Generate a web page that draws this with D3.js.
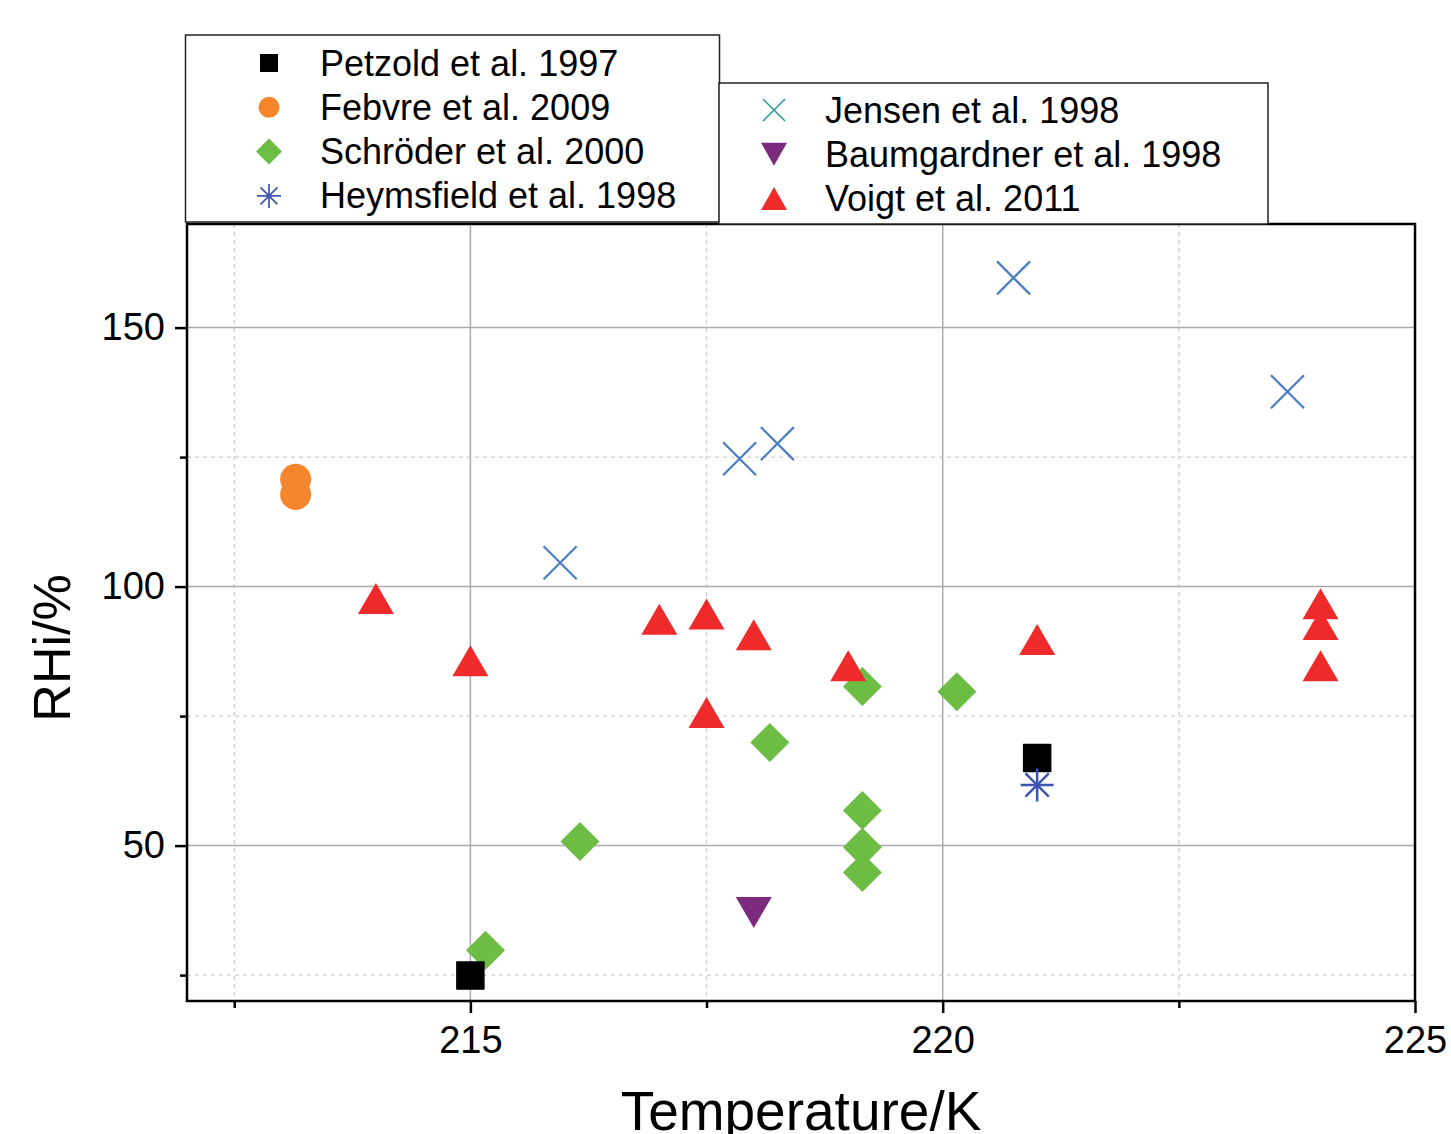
<!DOCTYPE html>
<html>
  <head>
    <meta charset="utf-8" />
    <title>RHi vs Temperature</title>
    <script src="https://d3js.org/d3.v7.min.js"></script>
    <style>
      body { margin: 0; background: #fff; }
      text { font-family: "Liberation Sans", Arial, sans-serif; fill: #000; }
    </style>
  </head>
  <body>
    <svg width="1451" height="1134" id="chart"></svg>
    <script>
      // data (temperature in K, RHi in %)
      var petzoldT = [215.0, 221.0];
      var petzoldRH = [24.9, 66.9];
      var febvreT = [213.15, 213.15];
      var febvreRH = [120.7, 117.8];
      var schroederT = [215.16, 216.16, 218.17, 219.15, 219.15, 219.15, 219.15, 220.15];
      var schroederRH = [29.8, 50.8, 69.9, 80.7, 56.8, 49.7, 44.8, 79.7];
      var heymsfieldT = [221.0];
      var heymsfieldRH = [61.7];
      var jensenT = [215.95, 217.85, 218.25, 220.75, 223.65];
      var jensenRH = [104.6, 124.7, 127.6, 159.6, 137.6];
      var baumgardnerT = [218.0];
      var baumgardnerRH = [37.1];
      var voigtT = [214.0, 215.0, 217.0, 217.5, 217.5, 218.0, 219.0, 221.0, 224.0, 224.0, 224.0];
      var voigtRH = [97.7, 85.7, 93.7, 94.7, 75.7, 90.7, 84.7, 89.8, 96.7, 92.7, 84.7];

      var xMajor = [215, 220, 225];
      var xMinor = [212.5, 217.5, 222.5];
      var yMajor = [50, 100, 150];
      var yMinor = [25, 75, 125];

      var legend1 = ["Petzold et al. 1997", "Febvre et al. 2009", "Schröder et al. 2000", "Heymsfield et al. 1998"];
      var legend2 = ["Jensen et al. 1998", "Baumgardner et al. 1998", "Voigt et al. 2011"];

      var svg = d3.select("#chart");
      var plotL = 187, plotR = 1415, plotT = 224, plotB = 1001;

      var x = d3.scaleLinear().domain([212, 225]).range([plotL, plotR]);
      var y = d3.scaleLinear().domain([20, 170]).range([plotB, plotT]);

      function zip(a, b) {
        return a.map(function(v, i) { return {t: v, rh: b[i]}; });
      }

      // grid lines
      var grid = svg.append("g");
      grid.selectAll(".gxm").data(xMinor).enter().append("line")
          .attr("x1", function(d){ return x(d); }).attr("x2", function(d){ return x(d); })
          .attr("y1", plotT).attr("y2", plotB)
          .attr("stroke", "#cfcfcf").attr("stroke-width", 1.3).attr("stroke-dasharray", "4,4");
      grid.selectAll(".gym").data(yMinor).enter().append("line")
          .attr("y1", function(d){ return y(d); }).attr("y2", function(d){ return y(d); })
          .attr("x1", plotL).attr("x2", plotR)
          .attr("stroke", "#cfcfcf").attr("stroke-width", 1.3).attr("stroke-dasharray", "4,4");
      grid.selectAll(".gx").data(xMajor.slice(0, 2)).enter().append("line")
          .attr("x1", function(d){ return x(d); }).attr("x2", function(d){ return x(d); })
          .attr("y1", plotT).attr("y2", plotB)
          .attr("stroke", "#aaaaaa").attr("stroke-width", 1.5);
      grid.selectAll(".gy").data(yMajor).enter().append("line")
          .attr("y1", function(d){ return y(d); }).attr("y2", function(d){ return y(d); })
          .attr("x1", plotL).attr("x2", plotR)
          .attr("stroke", "#aaaaaa").attr("stroke-width", 1.5);

      // axes
      var xAxis = svg.append("g").attr("transform", "translate(0," + plotB + ")")
          .call(d3.axisBottom(x).tickValues(xMajor).tickSize(12).tickPadding(13).tickFormat(d3.format("d")));
      var xAxisMinor = svg.append("g").attr("transform", "translate(0," + plotB + ")")
          .call(d3.axisBottom(x).tickValues(xMinor).tickSize(7).tickFormat(""));
      var yAxis = svg.append("g").attr("transform", "translate(" + plotL + ",0)")
          .call(d3.axisLeft(y).tickValues(yMajor).tickSize(12).tickPadding(10).tickFormat(d3.format("d")));
      var yAxisMinor = svg.append("g").attr("transform", "translate(" + plotL + ",0)")
          .call(d3.axisLeft(y).tickValues(yMinor).tickSize(7).tickFormat(""));

      [xAxis, xAxisMinor, yAxis, yAxisMinor].forEach(function(a) {
        a.select(".domain").remove();
        a.selectAll(".tick line").attr("stroke", "#000").attr("stroke-width", 2.5);
        a.selectAll(".tick text").style("font-size", "38px").attr("font-family", null);
      });

      // frame
      svg.append("rect").attr("x", plotL).attr("y", plotT)
          .attr("width", plotR - plotL).attr("height", plotB - plotT)
          .attr("fill", "none").attr("stroke", "#000").attr("stroke-width", 2.5);

      // axis titles
      svg.append("text").attr("x", 801).attr("y", 1130)
          .attr("text-anchor", "middle").style("font-size", "55px")
          .text("Temperature/K");
      svg.append("text")
          .attr("transform", "translate(70," + 648 + ") rotate(-90)")
          .attr("text-anchor", "middle").style("font-size", "52px")
          .text("RHi/%");

      // marker shapes
      var colors = {
        petzold: "#000000", febvre: "#f5862e", schroeder: "#6dbd45",
        heymsfield: "#3f55b3", jensen: "#4a7cc4", jensenLegend: "#2e9b9b",
        baumgardner: "#7b2a7e", voigt: "#ee2a2a"
      };

      function square(s) { return "M" + (-s) + "," + (-s) + "H" + s + "V" + s + "H" + (-s) + "Z"; }
      function diamond(s) { return "M0," + (-s) + "L" + s + ",0L0," + s + "L" + (-s) + ",0Z"; }
      function triUp(w, h) { return "M0," + (-h / 2) + "L" + (w / 2) + "," + (h / 2) + "L" + (-w / 2) + "," + (h / 2) + "Z"; }
      function triDown(w, h) { return "M0," + (h / 2) + "L" + (w / 2) + "," + (-h / 2) + "L" + (-w / 2) + "," + (-h / 2) + "Z"; }
      function cross(s) { return "M" + (-s) + "," + (-s) + "L" + s + "," + s + "M" + s + "," + (-s) + "L" + (-s) + "," + s; }
      function star(s) {
        var d = s * 0.707;
        return "M" + (-s) + ",0H" + s + "M0," + (-s) + "V" + s +
               "M" + (-d) + "," + (-d) + "L" + d + "," + d + "M" + d + "," + (-d) + "L" + (-d) + "," + d;
      }

      function drawPath(data, path, fill, stroke, sw) {
        svg.append("g").selectAll("path").data(data).enter().append("path")
            .attr("transform", function(d){ return "translate(" + x(d.t) + "," + y(d.rh) + ")"; })
            .attr("d", path)
            .attr("fill", fill).attr("stroke", stroke).attr("stroke-width", sw || 0)
            .attr("stroke-linejoin", "round");
      }

      drawPath(zip(schroederT, schroederRH), diamond(19.5), colors.schroeder, "none");
      drawPath(zip(petzoldT, petzoldRH), square(13.5), colors.petzold, colors.petzold, 1.5);
      svg.append("g").selectAll("circle").data(zip(febvreT, febvreRH)).enter().append("circle")
          .attr("cx", function(d){ return x(d.t); }).attr("cy", function(d){ return y(d.rh); })
          .attr("r", 15.5).attr("fill", colors.febvre);
      drawPath(zip(heymsfieldT, heymsfieldRH), star(16.5), "none", colors.heymsfield, 2.5);
      drawPath(zip(jensenT, jensenRH), cross(16.5), "none", colors.jensen, 2.2);
      drawPath(zip(baumgardnerT, baumgardnerRH), triDown(36, 31), colors.baumgardner, "none");
      drawPath(zip(voigtT, voigtRH), triUp(36, 31), colors.voigt, "none");

      // legends
      var box1 = svg.append("g");
      box1.append("rect").attr("x", 185.5).attr("y", 35).attr("width", 534).attr("height", 187)
          .attr("fill", "#fff").attr("stroke", "#222").attr("stroke-width", 1.5);
      var box2 = svg.append("g");
      box2.append("rect").attr("x", 719).attr("y", 83).attr("width", 549).attr("height", 141)
          .attr("fill", "#fff").attr("stroke", "#222").attr("stroke-width", 1.5);

      var leg1Marks = [
        {d: square(9), fill: colors.petzold, stroke: "none", sw: 0},
        {d: null, fill: colors.febvre},
        {d: diamond(13), fill: colors.schroeder, stroke: "none", sw: 0},
        {d: star(12), fill: "none", stroke: colors.heymsfield, sw: 1.7}
      ];
      var leg2Marks = [
        {d: cross(11), fill: "none", stroke: colors.jensenLegend, sw: 1.6},
        {d: triDown(26, 23), fill: colors.baumgardner, stroke: "none", sw: 0},
        {d: triUp(26, 23), fill: colors.voigt, stroke: "none", sw: 0}
      ];

      legend1.forEach(function(name, i) {
        var cy = 63 + i * 44.3;
        var m = leg1Marks[i];
        if (m.d === null) {
          box1.append("circle").attr("cx", 269).attr("cy", cy).attr("r", 10.5).attr("fill", m.fill);
        } else {
          box1.append("path").attr("transform", "translate(269," + cy + ")").attr("d", m.d)
              .attr("fill", m.fill).attr("stroke", m.stroke).attr("stroke-width", m.sw);
        }
        box1.append("text").attr("x", 320).attr("y", cy + 12.5).style("font-size", "36px").text(name);
      });

      legend2.forEach(function(name, i) {
        var cy = 110 + i * 44.3;
        var m = leg2Marks[i];
        box2.append("path").attr("transform", "translate(774," + cy + ")").attr("d", m.d)
            .attr("fill", m.fill).attr("stroke", m.stroke).attr("stroke-width", m.sw);
        box2.append("text").attr("x", 825).attr("y", cy + 12.5).style("font-size", "36px").text(name);
      });
    </script>
  </body>
</html>
